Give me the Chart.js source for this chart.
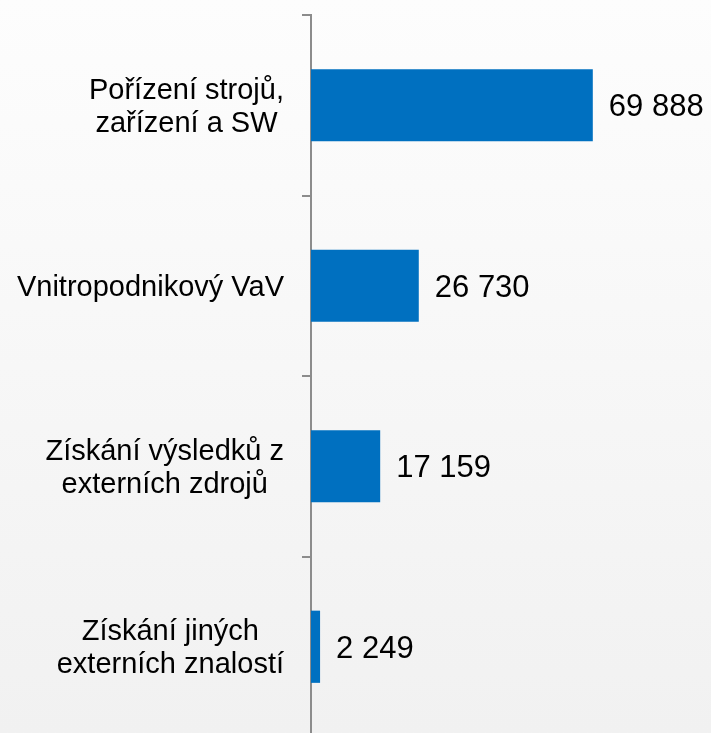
<!DOCTYPE html>
<html><head><meta charset="utf-8">
<script src="https://cdn.jsdelivr.net/npm/chart.js@4"></script>
<style>
html,body{margin:0;padding:0;overflow:hidden;width:711px;height:733px;background:linear-gradient(to bottom,#fdfdfd 0%,#f1f1f1 100%);}
#wrap{width:711px;height:741px;position:relative;}
</style></head><body>
<div id="wrap"><canvas id="c"></canvas></div>
<script>
const categories = [["Pořízení strojů,","zařízení a SW"],["Vnitropodnikový VaV"],["Získání výsledků z","externích zdrojů"],["Získání jiných","externích znalostí"]];
const values = [69888, 26730, 17159, 2249];

function fmt(v){return String(v).replace(/\B(?=(\d{3})+(?!\d))/g,' ');}
const FONT = '"Liberation Sans", Arial, sans-serif';

const labelPlugin = {
  id:'labels',
  afterDatasetsDraw(chart){
    const ctx = chart.ctx;
    const y = chart.scales.y;
    const meta = chart.getDatasetMeta(0);
    ctx.save();
    ctx.fillStyle = '#000';
    ctx.font = '29px ' + FONT;
    ctx.textBaseline = 'alphabetic';
    ctx.textAlign = 'center';
    const lh = 33;
    categories.forEach((lines,i)=>{
      const cy = y.getPixelForValue(i);
      const w = Math.max(...lines.map(l=>ctx.measureText(l).width));
      const cx = 284 - w/2;
      lines.forEach((l,k)=>{
        ctx.fillText(l, cx, cy + 10 + (k-(lines.length-1)/2)*lh);
      });
    });
    ctx.font = '31px ' + FONT;
    ctx.textAlign = 'left';
    meta.data.forEach((bar,i)=>{
      ctx.fillText(fmt(values[i]), bar.x + 16, bar.y + 11);
    });
    ctx.restore();
  }
};

new Chart(document.getElementById('c'),{
  type:'bar',
  data:{labels:categories.map(c=>c.join(' ')),datasets:[{data:values,backgroundColor:'#0070C0',borderWidth:0,barPercentage:0.4,categoryPercentage:1}]},
  options:{
    indexAxis:'y',responsive:true,maintainAspectRatio:false,animation:false,
    layout:{padding:{top:15,right:0,bottom:4,left:0}},
    plugins:{legend:{display:false},tooltip:{enabled:false}},
    scales:{
      x:{display:false,min:0,max:99200},
      y:{
        afterFit(s){s.width=311;},
        ticks:{display:false},
        grid:{offset:true,drawOnChartArea:false,drawTicks:true,tickLength:9,color:'#8c8c8c',lineWidth:2},
        border:{display:true,color:'#8c8c8c',width:2}
      }
    }
  },
  plugins:[labelPlugin]
});
</script></body></html>
